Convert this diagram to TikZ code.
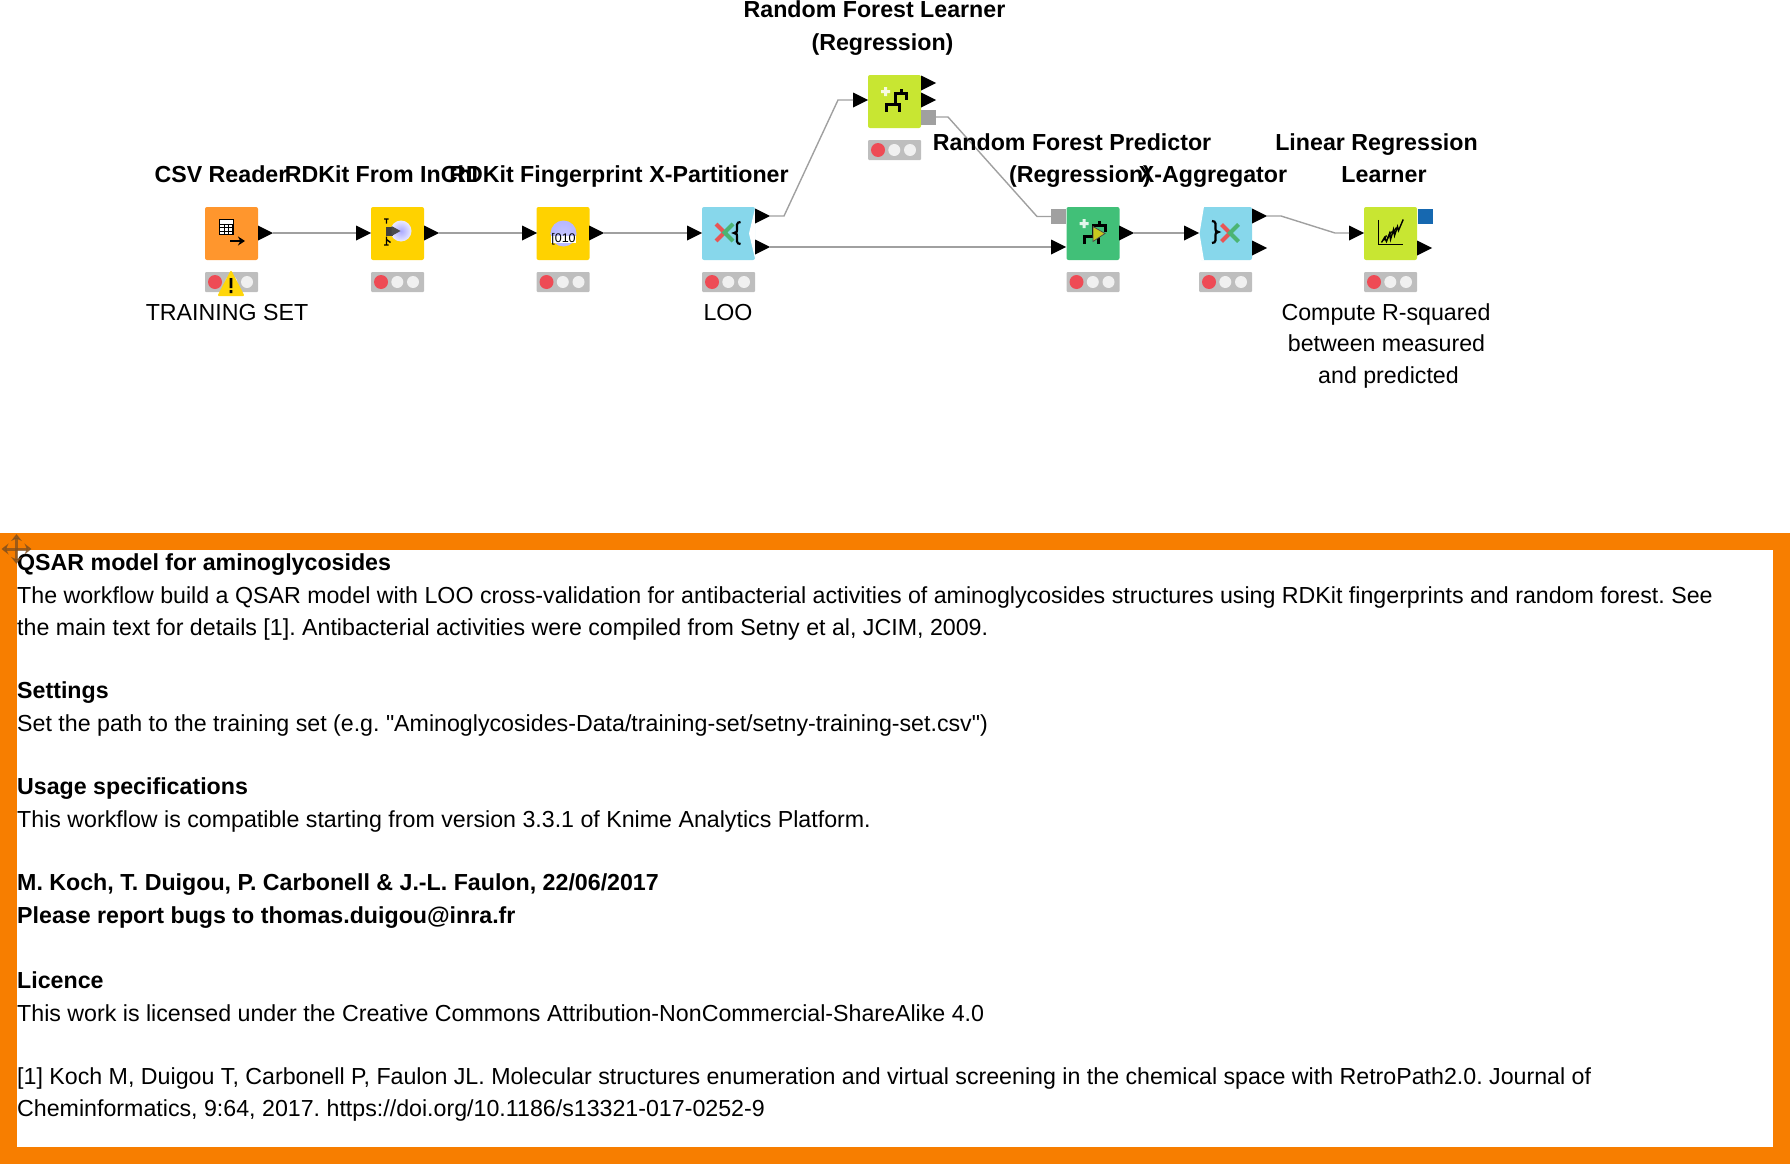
\documentclass[tikz,border=0pt]{standalone}
\usepackage{fontspec}
\setmainfont{Liberation Sans}[Ligatures=TeXOff]
\usetikzlibrary{arrows.meta,shapes.geometric}
\definecolor{reader}{RGB}{255,150,45}
\definecolor{gold}{RGB}{255,210,0}
\definecolor{sky}{RGB}{135,215,235}
\definecolor{lime}{RGB}{200,230,50}
\definecolor{jade}{RGB}{65,192,120}
\definecolor{wirecol}{RGB}{160,160,160}
\definecolor{lightbg}{RGB}{190,190,190}
\definecolor{lightred}{RGB}{238,75,85}
\definecolor{lightoff}{RGB}{240,240,240}
\definecolor{warn}{RGB}{255,214,10}
\definecolor{flow}{RGB}{22,104,176}
\definecolor{frame}{RGB}{247,126,0}
\definecolor{ball}{RGB}{170,170,255}
\definecolor{olive}{RGB}{200,200,30}
\definecolor{crossred}{RGB}{232,85,85}
\definecolor{crossgreen}{RGB}{75,180,115}
\definecolor{mover}{RGB}{130,80,30}
\frenchspacing
\tikzset{
  x=1pt,y=-1pt,
  box/.style={fill=#1,rounded corners=2pt,minimum size=53pt,inner sep=0pt,outer sep=0pt},
  inport/.style={isosceles triangle,isosceles triangle stretches,fill=black,minimum width=15pt,
    minimum height=15pt,inner sep=0pt,outer sep=0pt,anchor=lower side},
  modport/.style={fill=#1,minimum size=15pt,inner sep=0pt,outer sep=0pt},
  wire/.style={draw=wirecol,line width=1.4pt},
  title/.style={font=\fontsize{23.2}{32.6}\selectfont\bfseries,align=center,inner sep=0pt,anchor=base},
  note/.style={font=\fontsize{23.2}{32}\selectfont,align=center,inner sep=0pt,anchor=base},
  bodyline/.style={font=\fontsize{23.2}{32}\selectfont,inner sep=0pt,anchor=base west},
  % pictograms
  pics/lights/.style={code={
    \fill[lightbg,rounded corners=1pt] (0,-10) rectangle (53,10);
    \fill[lightred] (10,0) circle (7);
    \fill[lightoff] (26.3,0) circle (6);
    \fill[lightoff] (42,0) circle (6);
  }},
  pics/tree/.style={code={
    \fill[white!85!#1] (-10.5,-14.5) rectangle (-7.5,-5.5) (-13.5,-11.5) rectangle (-4.5,-8.5);
    \draw[black,line width=3pt] (6.7,-12.3) -- (6.7,-7.7) (12.3,-1.7) -- (12.3,-7.7) -- (0.7,-7.7) -- (0.7,2.7)
      (-8.3,10) -- (-8.3,2.7) -- (5,2.7) -- (5,10);
  }},
  pics/cross/.style={code={
    \draw[crossred,line width=4pt] (-8.5,-8.5) -- (0,0) -- (-8.5,8.5);
    \draw[crossgreen,line width=4pt] (8.5,-8.5) -- (0,0) -- (8.5,8.5);
  }},
  pics/curly/.style={code={
    \draw[black,line width=2.2pt] (3.5,-11) .. controls (-1,-11) and (0,-7) .. (0,-3)
      .. controls (0,-1) .. (-3,0) .. controls (0,1) .. (0,3) .. controls (0,7) and (-1,11) .. (3.5,11);
  }},
}
\begin{document}
\begin{tikzpicture}
  \useasboundingbox (0,0) rectangle (1790,1164);
  \foreach \n/\c/\x/\y in {csv/reader/231.5/233.5,inchi/gold/397.5/233.5,fpr/gold/563/233.5,
    part/sky/728.5/233.5,lrn/lime/894.5/101.5,prd/jade/1093/233.5,agg/sky/1225.5/233.5,lin/lime/1390.5/233.5}
  {
    \node[box=\c] (\n) at (\x,\y) {};
    \pic at ([yshift=-22pt]\n.south west) {lights};
  }
  % notch and chamfer
  \fill[white] (755.5,206.5) -- (749,233.5) -- (755.5,260.5) -- cycle;
  \fill[white] (1198.5,206.5) -- (1204,206.5) -- (1199.5,233.5) -- (1204,260.5) -- (1198.5,260.5) -- cycle;
  % ports
  \foreach \n/\x/\y in {csvout/258/233,inchiin/356/233,inchiout/424/233,fprin/522/233,fprout/589/233,
    partin/687/233,parta/755/216,partb/755/247,lrnin/853/100,lrna/921/83,lrnb/921/100,prdin/1051/247,
    prdout/1119/233,aggin/1184/233,agga/1252/216,aggb/1252/248,linin/1349/233,linout/1417/248}
    \node[inport] (\n) at (\x,\y) {};
  \node[modport=wirecol] (lrnmod) at (928.5,117) {};
  \node[modport=wirecol] (prdmod) at (1058.5,216.5) {};
  \node[modport=flow] (linflow) at (1425,216.5) {};
  % connections
  \foreach \a/\b in {csvout/inchiin,inchiout/fprin,fprout/partin,prdout/aggin,partb/prdin}
    \draw[wire] (\a.apex) -- (\b.lower side);
  \draw[wire] (parta.apex) -- ++(14,0) -- ([xshift=-15pt]lrnin.lower side) -- (lrnin.lower side);
  \draw[wire] (lrnmod.east) -- ++(12,0) -- ([xshift=-14pt]prdmod.west) -- (prdmod.west);
  \draw[wire] (agga.apex) -- ++(14,0) -- ([xshift=-14pt]linin.lower side) -- (linin.lower side);
  % node icons
  \begin{scope}[shift={(csv)}]
    \fill[black] (-12.5,-14.5) rectangle (2.5,1.5);
    \fill[white] (-11.5,-13.5) rectangle (1.5,-10);
    \foreach \i in {0,1,2} \foreach \j in {0,1,2}
      \fill[white] (-11.3+4.4*\i,-8.6+3.3*\j) rectangle ++(3.3,2.5);
    \draw[black,line width=2.4pt,-{Stealth[length=7pt,width=9pt]}] (-1.5,7.5) -- (13.5,7.5);
  \end{scope}
  \begin{scope}[shift={(inchi)}]
    \shade[inner color=ball,outer color=ball!25!white] (3.5,-2.5) circle (10.5);
    \fill[black!75] (-12,-7) rectangle (-5,2);
    \fill[black!70] (-6,-7.5) -- (3,-2.5) -- (-6,2.5) -- cycle;
    \draw[black,line width=1.4pt] (-13.5,-14.5) -- (-9,-14.5) (-13.5,11.5) -- (-9,11.5)
      (-11,-14.5) -- (-11,-10) (-11,3) -- (-11,11.5) (-11,6) -- (-7,9);
  \end{scope}
  \begin{scope}[shift={(fpr)}]
    \shade[inner color=ball!70!white,outer color=ball!85!white] (0.5,0) circle (13);
    \fill[white] (-12,2) rectangle (13,9.5);
    \node[font=\fontsize{12.5}{12.5}\selectfont,inner sep=0pt] (fprbits) at (0.5,5.5) {[010};
  \end{scope}
  \pic at (724.5,232.5) {cross};
  \pic at (737,233) {curly};
  \pic[xscale=-1] at (1215.5,232) {curly};
  \pic at (1230,233) {cross};
  \pic at (lrn) {tree=lime};
  \pic at (prd) {tree=jade};
  \fill[olive,draw=black!70,line width=.8pt] ([shift={(0,-7)}]prd.center) -- ([shift={(12,0)}]prd.center) -- ([shift={(0,8)}]prd.center) -- cycle;
  \begin{scope}[shift={(lin)}]
    \draw[black,line width=1.2pt] (-12.3,-13.7) -- (-12.3,10.7) -- (12.7,10.7);
    \draw[black,line width=1.4pt] (-9,9) -- (-6,4) -- (-4,8) -- (-1,0) -- (0,6) -- (3,-4) -- (4,2) -- (7,-7) -- (8,-3) -- (12.7,-14);
    \draw[black,line width=1.4pt] (-7,7) -- (-4,2) (-3,5) -- (1,-2) (2,0) -- (6,-6);
  \end{scope}
  % warning mark
  \fill[warn,draw=warn,line width=2pt,line join=round] (231,272) -- (243,295) -- (219,295) -- cycle;
  \fill[black] (229.6,278) rectangle (232.4,288) (229.6,290) rectangle (232.4,293);
  % labels
  \node[title] (csvlab) at (221,182) {CSV Reader};
  \node[title] (inchilab) at (381.5,182) {RDKit From InChI};
  \node[title] (fprlab) at (546,182) {RDKit Fingerprint};
  \node[title] (partlab) at (719,182) {X-Partitioner};
  \node[title] (lrnlab) at (874.5,18) {Random Forest Learner};
  \node[title] (lrnlabb) at (882.5,51) {(Regression)};
  \node[title] (prdlab) at (1072,150) {Random Forest Predictor};
  \node[title] (prdlabb) at (1080,182) {(Regression)};
  \node[title] (agglab) at (1213,182) {X-Aggregator};
  \node[title] (linlab) at (1376.5,150) {Linear Regression};
  \node[title] (linlabb) at (1384,182) {Learner};
  \node[note] (csvnote) at (227,320) {TRAINING SET};
  \node[note] (partnote) at (728,320) {LOO};
  \node[note] (linnote) at (1386,320) {Compute R-squared};
  \node[note] (linnoteb) at (1386.5,351) {between measured};
  \node[note] (linnotec) at (1388.5,383) {and predicted};
  % annotation
  \fill[frame] (0,533) rectangle (1790,1164);
  \fill[white] (16.5,550) rectangle (1773,1147);
  \foreach \y/\f/\t in {570/\bfseries/{QSAR model for aminoglycosides},
    603/\mdseries/{The workflow build a QSAR model with LOO cross-validation for antibacterial activities of aminoglycosides structures using RDKit fingerprints and random forest. See},
    635/\mdseries/{the main text for details [1]. Antibacterial activities were compiled from Setny et al, JCIM, 2009.},
    698/\bfseries/{Settings},
    731/\mdseries/{Set the path to the training set (e.g. "Aminoglycosides-Data/training-set/setny-training-set.csv")},
    794/\bfseries/{Usage specifications},
    827/\mdseries/{This workflow is compatible starting from version 3.3.1 of Knime Analytics Platform.},
    890/\bfseries/{M. Koch, T. Duigou, P. Carbonell \& J.-L. Faulon, 22/06/2017},
    923/\bfseries/{Please report bugs to thomas.duigou@inra.fr},
    988/\bfseries/{Licence},
    1021/\mdseries/{This work is licensed under the Creative Commons Attribution-NonCommercial-ShareAlike 4.0},
    1084/\mdseries/{[1] Koch M, Duigou T, Carbonell P, Faulon JL. Molecular structures enumeration and virtual screening in the chemical space with RetroPath2.0. Journal of},
    1116/\mdseries/{Cheminformatics, 9:64, 2017. https://doi.org/10.1186/s13321-017-0252-9}}
    \node[bodyline] (body\y) at (17,\y) {\f\t};
  % move handle
  \draw[mover,opacity=.75,line width=3pt,{Stealth[length=7pt,width=11pt]}-{Stealth[length=7pt,width=11pt]}] (1.5,549) -- (31.5,549);
  \draw[mover,opacity=.75,line width=3pt,{Stealth[length=7pt,width=11pt]}-{Stealth[length=7pt,width=11pt]}] (16.5,534) -- (16.5,564);
\end{tikzpicture}
\end{document}
